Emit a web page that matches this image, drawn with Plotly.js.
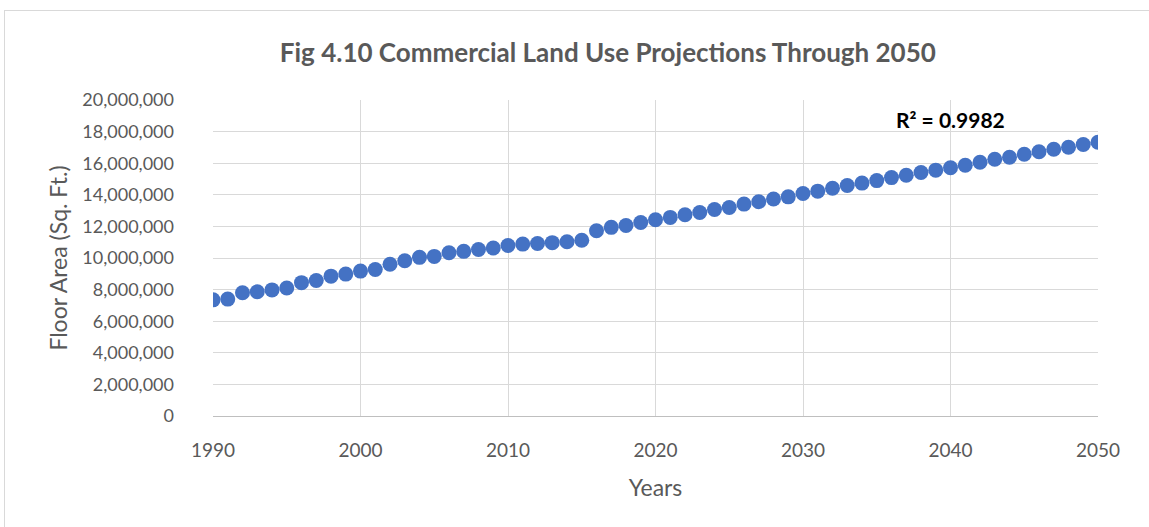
<!DOCTYPE html>
<html>
<head>
<meta charset="utf-8">
<script src="https://cdn.plot.ly/plotly-3.0.1.min.js"></script>
<style>
  html, body { margin: 0; padding: 0; background: #fff; }
  #wrap { position: relative; width: 1149px; height: 527px; }
  #chart { width: 1149px; height: 527px; }
  #frame { position: absolute; left: 4px; top: 10px; width: 1160px; height: 530px;
           border-left: 1px solid #d9d9d9; border-top: 1px solid #d9d9d9; pointer-events: none; }
</style>
</head>
<body>
<div id="wrap">
  <div id="chart"></div>
  <div id="frame"></div>
</div>
<script>
const years = [];
for (let y = 1990; y <= 2050; y++) years.push(y);

const floorArea = [
  7350000, 7400000, 7800000, 7860000, 7980000, 8100000, 8440000, 8580000, 8850000, 8980000,
  9170000, 9270000, 9600000, 9830000, 10040000, 10100000, 10330000, 10420000, 10540000, 10630000,
  10790000, 10880000, 10920000, 10970000, 11030000, 11120000, 11720000, 11940000, 12060000, 12250000,
  12420000, 12570000, 12740000, 12880000, 13070000, 13200000, 13410000, 13560000, 13730000, 13870000,
  14080000, 14230000, 14410000, 14590000, 14740000, 14900000, 15090000, 15240000, 15410000, 15560000,
  15710000, 15870000, 16060000, 16250000, 16380000, 16570000, 16720000, 16880000, 17010000, 17180000,
  17330000
];

const xTicks = [1990, 2000, 2010, 2020, 2030, 2040, 2050];
const yTicks = [0, 2000000, 4000000, 6000000, 8000000, 10000000, 12000000, 14000000, 16000000, 18000000, 20000000];
const yTickText = yTicks.map(v => v.toLocaleString('en-US'));

const titleText = 'Fig 4.10 Commercial Land Use Projections Through 2050';
const r2Text = 'R² = 0.9982';

const fontFam = 'Lato, "Open Sans", sans-serif';

const trace = {
  x: years,
  y: floorArea,
  type: 'scatter',
  mode: 'markers',
  marker: { color: '#4472C4', size: 15 },
  hoverinfo: 'x+y'
};

const layout = {
  width: 1149,
  height: 527,
  margin: { l: 213, r: 51, t: 100, b: 111 },
  paper_bgcolor: 'rgba(0,0,0,0)',
  plot_bgcolor: '#fff',
  showlegend: false,
  title: {
    text: '<b>' + titleText + '</b>',
    font: { family: fontFam, size: 26, color: '#595959' },
    x: 0.529, xanchor: 'center',
    y: 0.1, yanchor: 'middle', yref: 'container'
  },
  xaxis: {
    range: [1990, 2050],
    tickvals: xTicks,
    ticktext: xTicks.map(String),
    showgrid: true,
    gridcolor: '#d9d9d9',
    gridwidth: 1,
    zeroline: false,
    showline: true,
    linecolor: '#bfbfbf',
    linewidth: 1,
    ticks: '',
    ticklabelstandoff: 17,
    tickfont: { family: fontFam, size: 19, color: '#595959' },
    title: { text: 'Years', font: { family: fontFam, size: 23, color: '#595959' }, standoff: 20 },
    fixedrange: true
  },
  yaxis: {
    range: [0, 20000000],
    tickvals: yTicks,
    ticktext: yTickText,
    showgrid: true,
    gridcolor: '#d9d9d9',
    gridwidth: 1,
    zeroline: false,
    showline: false,
    ticks: '',
    ticklabelstandoff: 38,
    tickfont: { family: fontFam, size: 18, color: '#595959' },
    title: { text: 'Floor Area (Sq. Ft.)', font: { family: fontFam, size: 23, color: '#595959' }, standoff: 8 },
    fixedrange: true
  },
  annotations: [{
    x: 2040, y: 18750000, xref: 'x', yref: 'y',
    text: '<b>' + r2Text + '</b>',
    showarrow: false,
    font: { family: fontFam, size: 21, color: '#000' },
    xanchor: 'center', yanchor: 'middle'
  }]
};
layout.title.y = 0.9;

Plotly.newPlot('chart', [trace], layout, { displayModeBar: false, staticPlot: true });
</script>
</body>
</html>
